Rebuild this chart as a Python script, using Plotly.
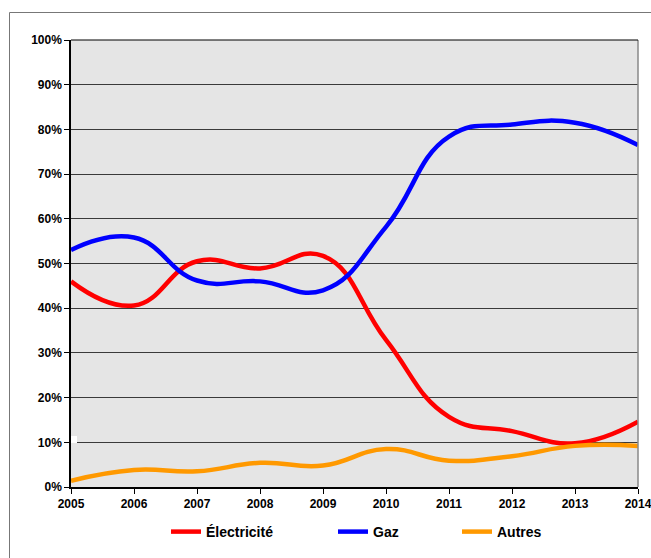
import plotly.graph_objects as go

years = [2005, 2006, 2007, 2008, 2009, 2010, 2011, 2012, 2013, 2014]
electricite = [46.0, 40.6, 50.5, 48.9, 51.7, 32.9, 15.7, 12.5, 9.8, 14.6]
gaz = [53.0, 55.8, 46.2, 46.0, 44.0, 58.2, 78.4, 81.1, 81.5, 76.5]
autres = [1.4, 3.8, 3.5, 5.4, 4.8, 8.5, 5.9, 6.9, 9.2, 9.2]
series_names = ["Électricité", "Gaz", "Autres"]
series_colors = ["#ff0000", "#0000ff", "#ff9900"]
y_ticks = [0, 10, 20, 30, 40, 50, 60, 70, 80, 90, 100]

W, H = 651, 558
L, R, T, B = 71, 13, 40, 71
pw, ph = W - L - R, H - T - B

def px_to_paper_x(px):
    return (px - L) / pw

def px_to_paper_y(py):
    return (H - B - py) / ph

fig = go.Figure()
legends = ["legend", "legend2", "legend3"]
for name, vals, col, lg in zip(series_names, [electricite, gaz, autres], series_colors, legends):
    fig.add_trace(go.Scatter(
        x=years, y=vals, name=name, mode="lines",
        line=dict(color=col, width=4.5, shape="spline", smoothing=1.3),
        legend=lg,
    ))

font_family = "Liberation Sans, Arial, sans-serif"
legend_common = dict(
    orientation="h", yanchor="middle", xanchor="left",
    bgcolor="rgba(0,0,0,0)", borderwidth=0,
    font=dict(family=font_family, size=14, color="#000", weight="bold"),
)
leg_px = [166, 333, 457]
legend_layouts = {}
for lg, p in zip(legends, leg_px):
    legend_layouts[lg] = dict(legend_common, x=px_to_paper_x(p), y=px_to_paper_y(532))

fig.update_layout(
    width=W, height=H,
    margin=dict(l=L, r=R, t=T, b=B, pad=0, autoexpand=False),
    paper_bgcolor="#ffffff",
    plot_bgcolor="#e5e5e5",
    showlegend=True,
    font=dict(family=font_family, color="#000"),
    xaxis=dict(
        range=[2005, 2014], tickmode="array", tickvals=years,
        ticktext=[str(y) for y in years],
        showgrid=False, zeroline=False,
        showline=True, linecolor="#000", linewidth=1.5,
        ticks="outside", ticklen=5, tickcolor="#000", tickwidth=1,
        tickfont=dict(family=font_family, size=12, color="#000", weight="bold"),
        ticklabeloverflow="allow", automargin=False,
        mirror=False,
    ),
    yaxis=dict(
        range=[0, 100], tickmode="array", tickvals=y_ticks,
        ticktext=[f"{v}%" for v in y_ticks],
        showgrid=True, gridcolor="#3a3a3a", gridwidth=1,
        zeroline=False, automargin=False,
        showline=True, linecolor="#000", linewidth=1.5,
        ticks="outside", ticklen=5, tickcolor="#000", tickwidth=1,
        tickfont=dict(family=font_family, size=12, color="#000", weight="bold"),
    ),
    **legend_layouts,
)

# plot area right border (gray) and top border
fig.add_shape(type="line", xref="paper", yref="paper", x0=1, x1=1, y0=0, y1=1,
              line=dict(color="#888888", width=1.5))
fig.add_shape(type="line", xref="paper", yref="paper", x0=0, x1=1, y0=1, y1=1,
              line=dict(color="#000", width=1))
# small white mark next to the axis at 10%
fig.add_shape(type="rect", xref="paper", yref="paper",
              x0=px_to_paper_x(71), x1=px_to_paper_x(77),
              y0=px_to_paper_y(443), y1=px_to_paper_y(436),
              line=dict(width=0), fillcolor="#ffffff")
# outer chart frame (cut off at right and bottom)
fig.add_shape(type="rect", xref="paper", yref="paper",
              x0=px_to_paper_x(9.5), x1=px_to_paper_x(700),
              y0=px_to_paper_y(600), y1=px_to_paper_y(12.5),
              line=dict(color="#777777", width=1), layer="below")

fig.write_html("out.html")
